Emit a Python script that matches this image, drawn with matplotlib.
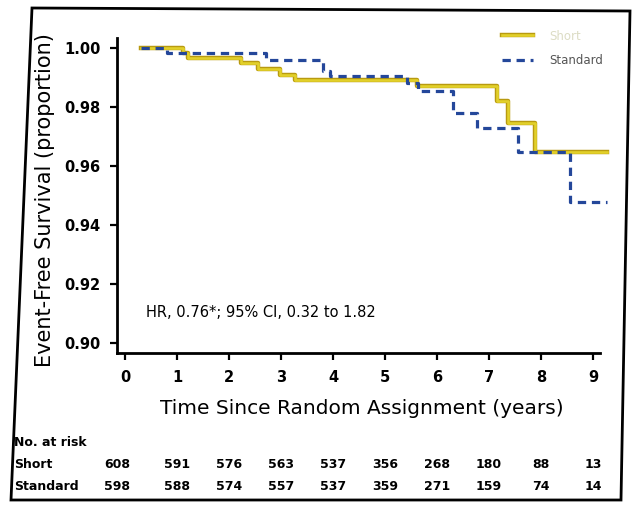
import matplotlib
matplotlib.use("Agg")
import matplotlib.pyplot as plt
import matplotlib.patheffects as pe
from matplotlib.patches import Polygon

W, H = 632, 507

# Kaplan-Meier steps
short_t = [0.3, 1.12, 1.22, 2.24, 2.56, 2.98, 3.27, 5.61, 7.15, 7.37, 7.88, 9.26]
short_s = [1.000, 0.9983, 0.9966, 0.9949, 0.9929, 0.9909, 0.9890, 0.9872, 0.9819, 0.9745, 0.9649, 0.9649]
std_t = [0.3, 0.8, 2.72, 3.81, 3.95, 5.42, 5.64, 6.31, 6.76, 7.56, 8.56, 9.26]
std_s = [1.000, 0.9983, 0.9960, 0.9921, 0.9904, 0.9881, 0.9855, 0.9779, 0.9728, 0.9649, 0.9479, 0.9479]

years = [0, 1, 2, 3, 4, 5, 6, 7, 8, 9]
yticks = [0.90, 0.92, 0.94, 0.96, 0.98, 1.00]
ytick_labels = ["0.90", "0.92", "0.94", "0.96", "0.98", "1.00"]
risk_short = [608, 591, 576, 563, 537, 356, 268, 180, 88, 13]
risk_std = [598, 588, 574, 557, 537, 359, 271, 159, 74, 14]
hr_text = "HR, 0.76*; 95% CI, 0.32 to 1.82"

fig = plt.figure(figsize=(W / 100, H / 100), dpi=100)
ax = fig.add_axes([117 / W, 1 - 353 / H, (607.6 - 117) / W, (353 - 38) / H])

ax.plot(short_t, short_s, drawstyle="steps-post", color="#e2d02a", lw=1.9,
        label="Short", clip_on=False,
        path_effects=[pe.Stroke(linewidth=3.2, foreground="#b89a10"), pe.Normal()])
ax.plot(std_t, std_s, drawstyle="steps-post", color="#24479a", lw=2.3,
        dashes=(2.6, 1.8), label="Standard", clip_on=False)

ax.set_xlim(-0.154, 9.28)
ax.set_ylim(0.8966, 1.0034)
ax.set_xticks(years)
ax.set_xticklabels([str(v) for v in years], fontsize=10.5, fontweight="bold")
ax.set_yticks(yticks)
ax.set_yticklabels(ytick_labels, fontsize=10.5, fontweight="bold")
ax.tick_params(direction="out", length=5, width=1.6, pad=7)
for s in ["top", "right"]:
    ax.spines[s].set_visible(False)
for s in ["left", "bottom"]:
    ax.spines[s].set_linewidth(2)
ax.spines["bottom"].set_bounds(-0.154, 9.13)

ax.set_xlabel("Time Since Random Assignment (years)", fontsize=14.5, labelpad=10)
fig.text(45 / W, 1 - 200 / H, "Event-Free Survival (proportion)", fontsize=15,
         rotation=90, ha="center", va="center")

ax.text(0.4, 0.9105, hr_text, fontsize=10.5, ha="left", va="center")

leg = ax.legend(loc="upper right", bbox_to_anchor=(614 / W, 1 - 19 / H),
                bbox_transform=fig.transFigure, frameon=False, fontsize=8.5,
                handlelength=2.6, labelspacing=1.0, handletextpad=1.4)
leg.get_texts()[0].set_color("#dcdcc4")
leg.get_texts()[1].set_color("#555555")

# number at risk table
fig.text(14 / W, 1 - 443 / H, "No. at risk", fontsize=9, fontweight="bold", va="center")
fig.text(14 / W, 1 - 464 / H, "Short", fontsize=9, fontweight="bold", va="center")
fig.text(14 / W, 1 - 487 / H, "Standard", fontsize=9, fontweight="bold", va="center")
for x, a, b in zip(years, risk_short, risk_std):
    px = 125 + x * 52 - (8 if x == 0 else 0)
    fig.text(px / W, 1 - 464 / H, str(a), fontsize=9, fontweight="bold",
             ha="center", va="center")
    fig.text(px / W, 1 - 487 / H, str(b), fontsize=9, fontweight="bold",
             ha="center", va="center")

# outer frame
frame = [(32 / W, 1 - 8 / H), (630 / W, 1 - 11 / H), (621 / W, 1 - 500 / H), (11 / W, 1 - 500 / H)]
fig.add_artist(Polygon(frame, closed=True, fill=False, lw=2, ec="black",
                       transform=fig.transFigure))

fig.savefig("out.png", dpi=100)
